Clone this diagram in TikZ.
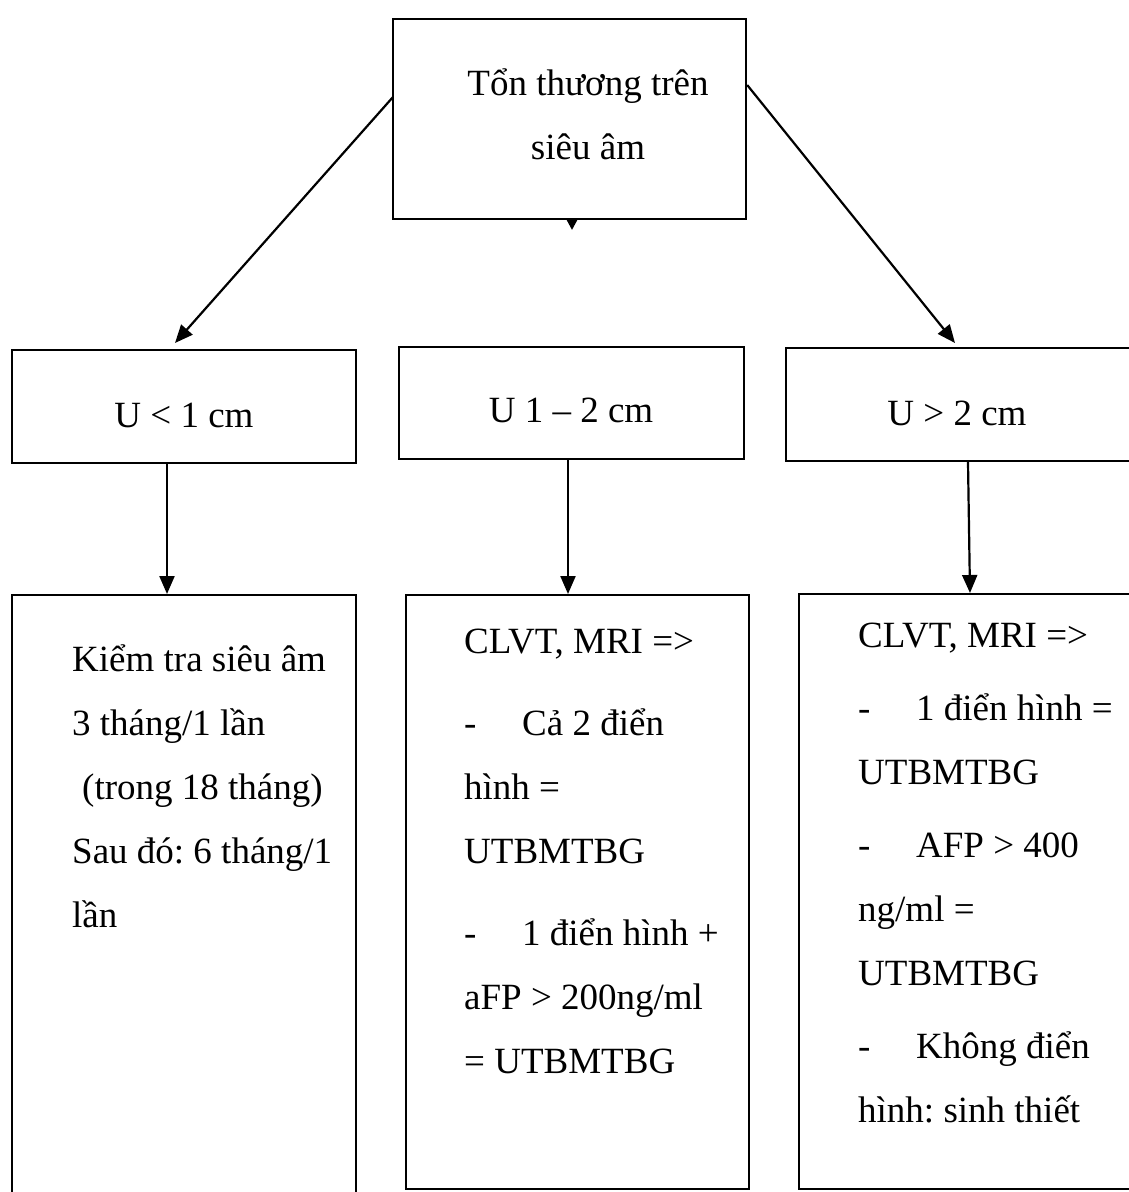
\documentclass[tikz,border=0pt]{standalone}
\usepackage{fontspec}
\setmainfont{Liberation Serif}
\usetikzlibrary{calc,arrows.meta,positioning}

\newcommand{\listdash}{\makebox[58pt][l]{-}}

\tikzset{
  box/.style={draw=black, line width=2.2pt, inner sep=0pt, anchor=north west},
  txt/.style={inner sep=0pt, font=\fontsize{37}{64}\selectfont\frenchspacing},
  arr/.style={line width=2.2pt, -{Triangle[length=18pt,width=15pt]}},
}

\begin{document}
\begin{tikzpicture}[x=1pt, y=-1pt]
    \fill[white] (0,0) rectangle (1128,1192);
    \useasboundingbox (0,0) rectangle (1128,1192);

    % Top box
    \node[box, minimum width=353pt, minimum height=200pt] (top) at (392,18) {};
    \node[txt, align=center, anchor=base] (toptxt) at (588,159) {Tổn thương trên\\siêu âm};

    % Size boxes
    \node[box, minimum width=344pt, minimum height=113pt] (small) at (11,349) {};
    \node[box, minimum width=345pt, minimum height=112pt] (medium) at (398,346) {};
    \node[box, minimum width=360pt, minimum height=113pt] (large) at (785,347) {};
    \node[txt, anchor=base] (smalltxt) at (184,427) {U < 1 cm};
    \node[txt, anchor=base] (mediumtxt) at (571,422) {U 1 – 2 cm};
    \node[txt, anchor=base] (largetxt) at (957,425) {U > 2 cm};

    % Plan boxes
    \node[box, minimum width=344pt, minimum height=620pt] (smallplan) at (11,594) {};
    \node[box, minimum width=343pt, minimum height=594pt] (mediumplan) at (405,594) {};
    \node[box, minimum width=360pt, minimum height=595pt] (largeplan) at (798,593) {};

    % base anchor sits on the last line
    \node[txt, align=left, anchor=base west] (smallplantxt) at (72,927)
        {Kiểm tra siêu âm\\3 tháng/1 lần\\\hspace*{10pt}(trong 18 tháng)\\Sau đó: 6 tháng/1\\lần};
    \node[txt, align=left, anchor=base west] (mediumplantxt) at (464,1073)
        {CLVT, MRI =>\\[18pt]\listdash Cả 2 điển\\hình =\\UTBMTBG\\[18pt]\listdash 1 điển hình +\\aFP > 200ng/ml\\= UTBMTBG};
    \node[txt, align=left, anchor=base west] (largeplantxt) at (858,1122)
        {CLVT, MRI =>\\[9pt]\listdash 1 điển hình =\\UTBMTBG\\[9pt]\listdash AFP > 400\\ng/ml =\\UTBMTBG\\[9pt]\listdash Không điển\\hình: sinh thiết};

    % Connections
    \coordinate (stub) at (572,230);
    \draw[line width=2.2pt, -{Triangle[length=10pt,width=10pt]}] (top.south -| stub) -- (stub);
    \draw[arr] ($(top.north west)+(1,79)$) -- ($(small.north west)+(164,-6)$);
    \draw[arr] ($(top.north east)+(0,67)$) -- ($(large.north west)+(170,-4)$);
    \draw[arr] ($(small.south west)+(156,0)$) -- ($(smallplan.north west)+(156,0)$);
    \draw[arr] ($(medium.south west)+(170,0)$) -- ($(mediumplan.north west)+(163,0)$);
    \draw[arr] ($(large.south west)+(183,0)$) -- ($(largeplan.north west)+(172,0)$);
\end{tikzpicture}
\end{document}
